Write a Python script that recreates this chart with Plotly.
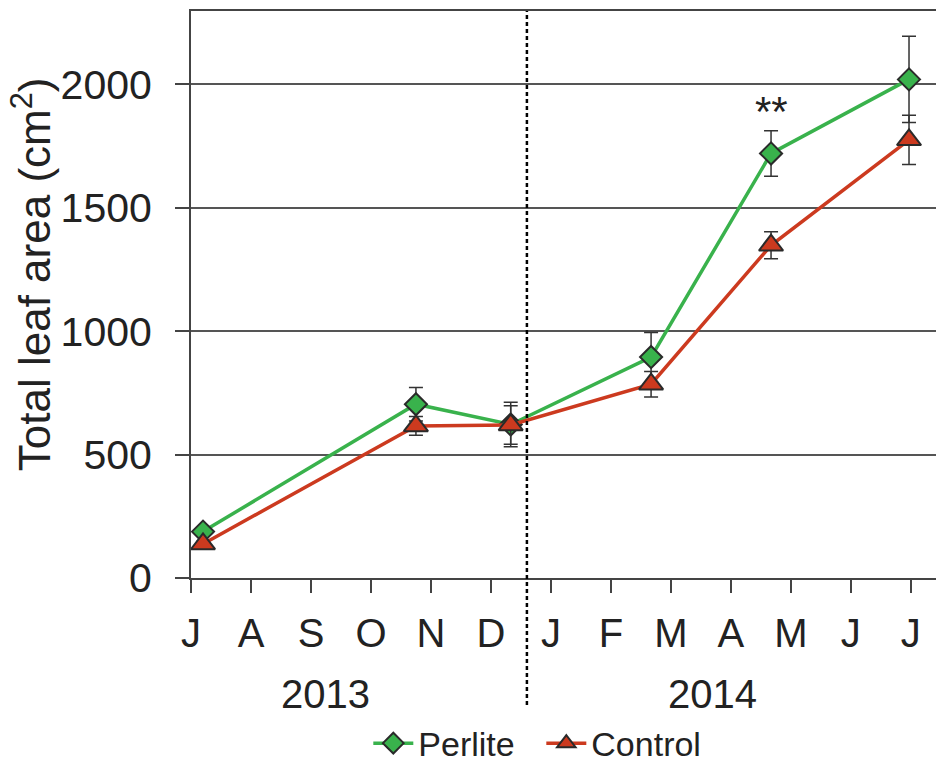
import plotly.graph_objects as go

# Month ticks, Jul 2013 .. Jul 2014 (position = months since 1 Jul 2013)
month_pos = list(range(13))
month_labels = ["J", "A", "S", "O", "N", "D", "J", "F", "M", "A", "M", "J", "J"]

# Sampling dates (months since 1 Jul 2013)
sample_pos = [0.2, 3.75, 5.33, 7.67, 9.67, 11.97]

perlite = [188, 704, 622, 895, 1720, 2020]
perlite_err = [12, 68, 90, 100, 92, 175]

control = [138, 616, 620, 785, 1348, 1775]
control_err = [10, 38, 78, 52, 55, 100]

year_labels = ["2013", "2014"]
year_pos = [2.25, 8.7]
year_break = 5.6

GREEN = "#39b24c"
RED = "#cc3a1f"
EDGE = "#2a2a2a"
FONT = "Liberation Sans, Arial, sans-serif"

fig = go.Figure()

fig.add_trace(go.Scatter(
    x=sample_pos, y=perlite, name="Perlite", mode="lines+markers",
    line=dict(color=GREEN, width=3.5),
    marker=dict(symbol="diamond", size=17, color=GREEN,
                line=dict(color=EDGE, width=2)),
    error_y=dict(type="data", array=perlite_err, color="#333333",
                 thickness=1.5, width=7),
))
fig.add_trace(go.Scatter(
    x=sample_pos, y=control, name="Control", mode="lines+markers",
    line=dict(color=RED, width=3.5),
    marker=dict(symbol="triangle-up", size=21, color=RED,
                line=dict(color=EDGE, width=2)),
    error_y=dict(type="data", array=control_err, color="#333333",
                 thickness=1.5, width=7),
))

# Year divider
fig.add_shape(type="line", xref="x", yref="paper",
              x0=year_break, x1=year_break, y0=-0.224, y1=1,
              line=dict(color="#000000", width=2.5, dash="4px,3px"))

annotations = []
for lab, pos in zip(year_labels, year_pos):
    annotations.append(dict(x=pos, y=-0.205, xref="x", yref="paper",
                            text=lab, showarrow=False,
                            font=dict(size=40, color="#222222", family=FONT),
                            xanchor="center", yanchor="middle"))
# Significance marker
annotations.append(dict(x=sample_pos[4], y=1890, xref="x", yref="y",
                        text="**", showarrow=False,
                        font=dict(size=42, color="#222222", family=FONT),
                        xanchor="center", yanchor="middle"))
# Y-axis title
annotations.append(dict(x=-0.214, y=0.535, xref="paper", yref="paper",
                        text="Total leaf area (cm<sup>2</sup>)", showarrow=False,
                        textangle=-90,
                        font=dict(size=44, color="#222222", family=FONT),
                        xanchor="center", yanchor="middle"))

fig.update_layout(
    width=936, height=765,
    margin=dict(l=191, r=0, t=11, b=187, autoexpand=False),
    paper_bgcolor="white", plot_bgcolor="white",
    font=dict(family=FONT, color="#222222"),
    annotations=annotations,
    showlegend=True,
    legend=dict(orientation="h", x=0.238, xanchor="left",
                y=-0.292, yanchor="middle",
                font=dict(size=34, color="#222222", family=FONT),
                itemwidth=40, entrywidth=118, tracegroupgap=0,
                bgcolor="rgba(0,0,0,0)"),
)

fig.update_xaxes(
    range=[0, 12.42], tickmode="array", tickvals=month_pos, ticktext=month_labels,
    showgrid=False, zeroline=False,
    showline=True, linecolor="#444444", linewidth=2, mirror=True,
    ticks="outside", ticklen=13, tickwidth=1.5, tickcolor="#444444",
    tickfont=dict(size=40, color="#222222", family=FONT),
    ticklabelstandoff=6,
)
fig.update_yaxes(
    range=[0, 2297], tickmode="array", tickvals=[0, 500, 1000, 1500, 2000],
    showgrid=True, gridcolor="#555555", gridwidth=1.5, zeroline=False,
    showline=True, linecolor="#444444", linewidth=2,
    ticks="outside", ticklen=14, tickwidth=1.5, tickcolor="#444444",
    tickfont=dict(size=41, color="#222222", family=FONT),
    ticklabelstandoff=15,
)

fig.write_html("out.html")
